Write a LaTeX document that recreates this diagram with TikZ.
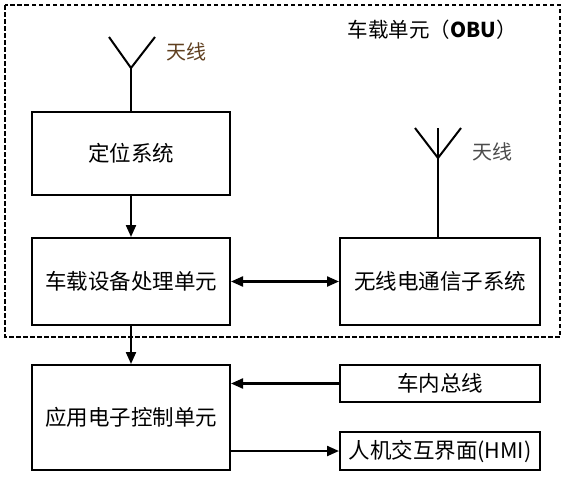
\documentclass[tikz,border=0pt]{standalone}
\usepackage{fontspec}
\newfontfamily\cjk{Noto Sans CJK SC}
\usetikzlibrary{arrows.meta}
\begin{document}
\begin{tikzpicture}[x=1pt,y=-1pt,
  blk/.style={draw,line width=2pt,minimum width=198pt,inner sep=0pt,font=\cjk\fontsize{21.5}{24}\selectfont},
  conn/.style={line width=2.2pt,-{Triangle[length=12pt,width=10pt]}},
  dconn/.style={line width=2.2pt,{Triangle[length=12pt,width=10pt]}-{Triangle[length=12pt,width=10pt]}},
  ant/.style={line width=2pt},
  lbl/.style={font=\cjk\fontsize{20}{22}\selectfont}]
\useasboundingbox (0,0) rectangle (567,480);
\draw[line width=1.7pt,dash pattern=on 4.5pt off 2.5pt] (5,5) rectangle (560,337);
\node[font=\cjk\fontsize{20.5}{23}\selectfont] (title) at (432,30) {车载单元（\textbf{OBU}）};
\node[blk,minimum height=83pt] (pos) at (131,153.5) {定位系统};
\node[blk,minimum height=87pt] (proc) at (131,281.5) {车载设备处理单元};
\node[blk,minimum width=200pt,minimum height=87pt] (radio) at (440,281.5) {无线电通信子系统};
\node[blk,minimum height=105pt] (app) at (131,417.5) {应用电子控制单元};
\node[blk,minimum width=200pt,minimum height=37pt] (bus) at (440,383.5) {车内总线};
\node[blk,minimum width=200pt,minimum height=38pt] (hmi) at (440,451) {人机交互界面(HMI)};
% antenna 1
\coordinate (a1j) at (131,68);
\coordinate (a1l) at (109,37);
\coordinate (a1r) at (155,37);
\draw[ant] (pos.north) -- (a1j);
\draw[ant] (a1l) -- (a1j) -- (a1r);
\node[lbl,text=brown!50!black] (l1) at (186,52) {天线};
% antenna 2
\coordinate (a2j) at (438,158);
\coordinate (a2l) at (415,128);
\coordinate (a2r) at (461,128);
\coordinate (a2t) at (438,128);
\draw[ant] (radio.north -| a2j) -- (a2t);
\draw[ant] (a2l) -- (a2j) -- (a2r);
\node[lbl,text=black!70] (l2) at (492,152) {天线};
% connectors
\draw[conn] (pos) -- (proc);
\draw[conn] (proc) -- (app);
\draw[dconn] (proc) -- (radio);
\draw[conn] (bus.west) -- (bus.west -| app.east);
\draw[conn] (hmi.west -| app.east) -- (hmi.west);
\end{tikzpicture}
\end{document}
